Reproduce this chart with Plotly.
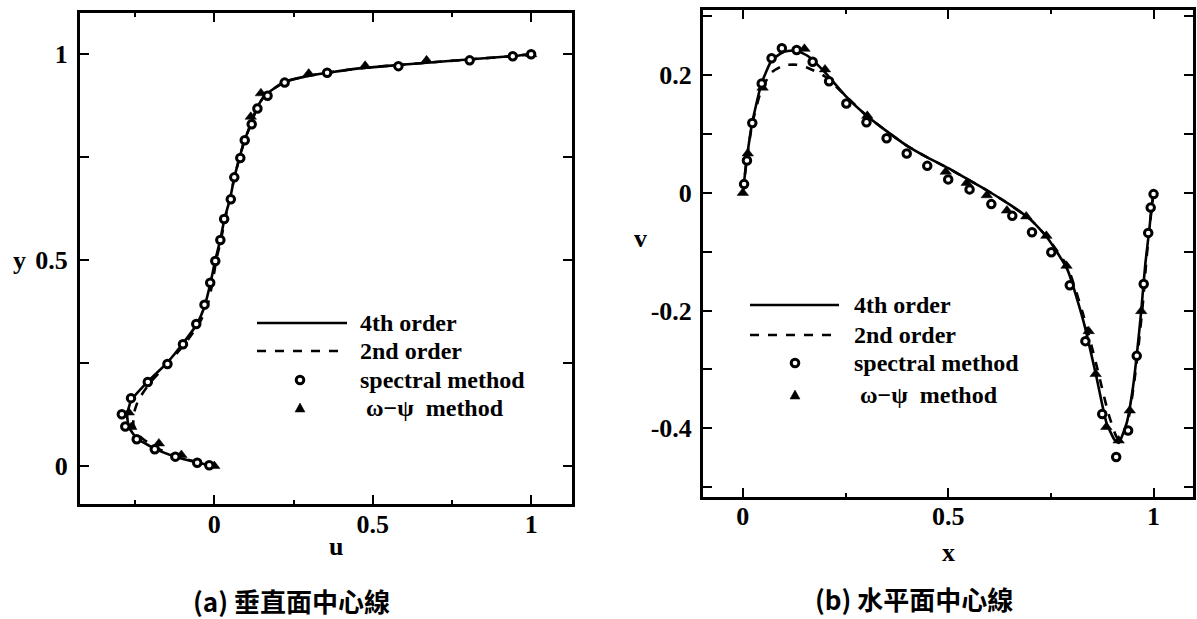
import plotly.graph_objects as go

# ---------------- (a) vertical centerline: u(y) ----------------
spec_u = [1.0, 0.942, 0.806, 0.581, 0.356, 0.222, 0.168, 0.136, 0.118, 0.096, 0.082, 0.063,
          0.052, 0.031, 0.019, 0.003, -0.013, -0.031, -0.057, -0.099, -0.148, -0.210, -0.263,
          -0.292, -0.281, -0.245, -0.188, -0.123, -0.054, -0.016]
spec_y = [1.0, 0.995, 0.985, 0.971, 0.955, 0.931, 0.899, 0.868, 0.830, 0.791, 0.748, 0.701,
          0.648, 0.600, 0.549, 0.498, 0.445, 0.392, 0.345, 0.296, 0.248, 0.204, 0.165,
          0.126, 0.096, 0.065, 0.041, 0.023, 0.008, 0.002]

tri_u = [1.0, 0.670, 0.476, 0.298, 0.147, 0.115, 0.0, -0.104, -0.175, -0.262, -0.270]
tri_y = [1.0, 0.985, 0.972, 0.953, 0.905, 0.848, 0.0, 0.027, 0.055, 0.095, 0.130]

o4_u = [0.0, -0.05, -0.12, -0.19, -0.245, -0.27, -0.275, -0.262, -0.21, -0.15, -0.10, -0.055,
        -0.03, -0.012, 0.003, 0.019, 0.032, 0.05, 0.063, 0.08, 0.095, 0.115, 0.135, 0.16,
        0.22, 0.30, 0.45, 0.60, 0.80, 0.95, 1.0]
o4_y = [0.0, 0.008, 0.022, 0.043, 0.068, 0.095, 0.125, 0.16, 0.205, 0.25, 0.297, 0.345,
        0.39, 0.445, 0.50, 0.55, 0.60, 0.65, 0.70, 0.75, 0.79, 0.83, 0.87, 0.90,
        0.932, 0.948, 0.965, 0.975, 0.987, 0.996, 1.0]

o2_u = [0.0, -0.05, -0.12, -0.185, -0.235, -0.255, -0.255, -0.24, -0.20, -0.14, -0.09, -0.045,
        -0.02, -0.006, 0.006, 0.021, 0.034, 0.05, 0.063, 0.08, 0.095, 0.115, 0.135, 0.16,
        0.22, 0.30, 0.45, 0.60, 0.80, 0.95, 1.0]
o2_y = [0.0, 0.009, 0.024, 0.045, 0.072, 0.10, 0.125, 0.16, 0.205, 0.255, 0.30, 0.35,
        0.395, 0.445, 0.50, 0.55, 0.60, 0.65, 0.70, 0.75, 0.79, 0.83, 0.87, 0.90,
        0.932, 0.948, 0.965, 0.975, 0.987, 0.996, 1.0]

# ---------------- (b) horizontal centerline: v(x) ----------------
spec_x = [0.003, 0.010, 0.023, 0.046, 0.070, 0.095, 0.131, 0.170, 0.210, 0.252, 0.301, 0.350,
          0.399, 0.449, 0.500, 0.552, 0.605, 0.656, 0.704, 0.751, 0.796, 0.834, 0.875, 0.909,
          0.938, 0.959, 0.976, 0.987, 0.993, 1.0]
spec_v = [0.015, 0.055, 0.119, 0.186, 0.229, 0.246, 0.243, 0.223, 0.190, 0.152, 0.120, 0.093,
          0.067, 0.046, 0.023, 0.006, -0.019, -0.039, -0.067, -0.101, -0.157, -0.252, -0.376, -0.449,
          -0.404, -0.277, -0.155, -0.068, -0.025, -0.002]

tri_x = [0.0, 0.012, 0.048, 0.150, 0.200, 0.303, 0.494, 0.545, 0.594, 0.643, 0.690, 0.739,
         0.788, 0.842, 0.859, 0.885, 0.915, 0.942, 0.970]
tri_v = [0.0, 0.067, 0.179, 0.245, 0.210, 0.131, 0.036, 0.017, -0.004, -0.030, -0.040, -0.073,
         -0.124, -0.235, -0.308, -0.398, -0.421, -0.370, -0.201]

o4_x = [0.0, 0.010, 0.023, 0.045, 0.070, 0.100, 0.130, 0.160, 0.200, 0.250, 0.300, 0.350,
        0.400, 0.450, 0.500, 0.550, 0.600, 0.650, 0.700, 0.740, 0.790, 0.830, 0.860, 0.885,
        0.905, 0.915, 0.935, 0.950, 0.960, 0.970, 0.980, 0.990, 0.995, 1.0]
o4_v = [0.0, 0.060, 0.120, 0.185, 0.225, 0.240, 0.242, 0.232, 0.205, 0.165, 0.132, 0.105,
        0.080, 0.060, 0.042, 0.022, 0.002, -0.020, -0.045, -0.075, -0.130, -0.220, -0.310, -0.390,
        -0.420, -0.425, -0.390, -0.330, -0.270, -0.200, -0.120, -0.060, -0.025, 0.0]

o2_x = [0.0, 0.010, 0.023, 0.045, 0.070, 0.100, 0.130, 0.160, 0.200, 0.250, 0.300, 0.350,
        0.400, 0.450, 0.500, 0.550, 0.600, 0.650, 0.700, 0.740, 0.790, 0.830, 0.860, 0.890,
        0.910, 0.920, 0.940, 0.955, 0.965, 0.975, 0.983, 0.991, 0.996, 1.0]
o2_v = [0.0, 0.060, 0.118, 0.175, 0.205, 0.217, 0.218, 0.212, 0.198, 0.165, 0.132, 0.105,
        0.080, 0.060, 0.042, 0.022, 0.002, -0.020, -0.045, -0.075, -0.125, -0.210, -0.290, -0.375,
        -0.415, -0.420, -0.380, -0.310, -0.250, -0.180, -0.110, -0.055, -0.022, 0.0]

legend_labels = ["4th order", "2nd order", "spectral method", "\u00a0ω−ψ\u00a0\u00a0method"]
captions = ["(a) 垂直面中心線", "(b) 水平面中心線"]

W, H = 1197, 619
SERIF = "Liberation Serif"
CJK = "Noto Sans CJK TC"


def px(x):
    return x / W


def py(y):
    return 1 - y / H


fig = go.Figure()

line_w = 2.6
circ = dict(symbol="circle", size=7.5, color="white", line=dict(color="black", width=3))
tri = dict(symbol="triangle-up", size=10, color="black", line=dict(color="black", width=0.5))

for xa, ya, xs4, ys4, xs2, ys2, txs, tys, sxs, sys_ in [
    ("x", "y", o4_u, o4_y, o2_u, o2_y, tri_u, tri_y, spec_u, spec_y),
    ("x2", "y2", o4_x, o4_v, o2_x, o2_v, tri_x, tri_v, spec_x, spec_v),
]:
    fig.add_trace(go.Scatter(x=xs2, y=ys2, mode="lines", xaxis=xa, yaxis=ya,
                             line=dict(color="black", width=line_w, dash="dash", shape="spline", smoothing=0.5),
                             showlegend=False, name="2nd order"))
    fig.add_trace(go.Scatter(x=xs4, y=ys4, mode="lines", xaxis=xa, yaxis=ya,
                             line=dict(color="black", width=line_w, shape="spline", smoothing=0.5),
                             showlegend=False, name="4th order"))
    fig.add_trace(go.Scatter(x=txs, y=tys, mode="markers", xaxis=xa, yaxis=ya, marker=tri,
                             showlegend=False, name="ω−ψ method"))
    fig.add_trace(go.Scatter(x=sxs, y=sys_, mode="markers", xaxis=xa, yaxis=ya, marker=circ,
                             showlegend=False, name="spectral method"))

tickfont = dict(family=SERIF, size=26, color="black", weight="bold")
common = dict(showline=True, linecolor="black", linewidth=3, mirror="ticks",
              ticks="inside", tickcolor="black", tickwidth=2.2, showgrid=False, zeroline=False,
              tickfont=tickfont)
xminor = dict(ticks="inside", ticklen=4, tickcolor="black", tickwidth=2.2)
yminor = dict(ticks="inside", ticklen=9, tickcolor="black", tickwidth=2.2)

fig.update_layout(
    width=W, height=H,
    margin=dict(l=0, r=0, t=0, b=0),
    paper_bgcolor="white", plot_bgcolor="white",
    xaxis=dict(domain=[px(80), px(572)], range=[-0.424, 1.129], anchor="y",
               tickvals=[0, 0.5, 1], ticktext=["0", "0.5", "1"], ticklen=9, ticklabelstandoff=-5,
               minor=dict(tickvals=[-0.25, 0.25, 0.75], **xminor), **common),
    yaxis=dict(domain=[py(504), py(13)], range=[-0.092, 1.1], anchor="x",
               tickvals=[0, 0.5, 1], ticktext=["0", "0.5", "1"], ticklen=9, ticklabelstandoff=4,
               minor=dict(tickvals=[0.25, 0.75], **yminor), **common),
    xaxis2=dict(domain=[px(703), px(1193)], range=[-0.097, 1.096], anchor="y2",
                tickvals=[0, 0.5, 1], ticktext=["0", "0.5", "1"], ticklen=9, ticklabelstandoff=-6,
                minor=dict(tickvals=[0.25, 0.75], **xminor), **common),
    yaxis2=dict(domain=[py(497), py(10)], range=[-0.517, 0.311], anchor="x2",
                tickvals=[-0.4, -0.2, 0, 0.2], ticktext=["-0.4", "-0.2", "0", "0.2"], ticklen=9,
                ticklabelstandoff=3,
                minor=dict(tickvals=[-0.5, -0.3, -0.1, 0.1, 0.3], **yminor), **common),
)

annos = []
shapes = []
lab_font = dict(family=SERIF, size=26, color="black", weight="bold")
annos.append(dict(text="u", x=0.385, y=py(546), xref="x", yref="paper", xanchor="center",
                  yanchor="middle", showarrow=False, font=lab_font))
annos.append(dict(text="x", x=0.5, y=py(552), xref="x2", yref="paper", xanchor="center",
                  yanchor="middle", showarrow=False, font=lab_font))
annos.append(dict(text="y", x=px(19), y=0.5, xref="paper", yref="y", xanchor="center",
                  yanchor="middle", showarrow=False, font=lab_font))
annos.append(dict(text="v", x=px(640), y=py(239), xref="paper", yref="paper", xanchor="center",
                  yanchor="middle", showarrow=False, font=lab_font))

cap_font = dict(family=CJK, size=26, color="black", weight="bold")
annos.append(dict(text=captions[0], x=px(291), y=py(600), xref="paper", yref="paper",
                  xanchor="center", yanchor="middle", showarrow=False, font=cap_font))
annos.append(dict(text=captions[1], x=px(914), y=py(598), xref="paper", yref="paper",
                  xanchor="center", yanchor="middle", showarrow=False, font=cap_font))

# custom legends (line samples, symbols and labels)
leg_font = dict(family=SERIF, size=24, color="black", weight="bold")
for (x0, x1, xm, xt, rows) in [(257, 347, 300, 358, [323, 351, 380, 408]),
                               (750, 839, 795, 852, [305, 335, 363, 395])]:
    shapes.append(dict(type="line", xref="paper", yref="paper", x0=px(x0), x1=px(x1),
                       y0=py(rows[0]), y1=py(rows[0]), line=dict(color="black", width=2.6)))
    shapes.append(dict(type="line", xref="paper", yref="paper", x0=px(x0), x1=px(x1),
                       y0=py(rows[1]), y1=py(rows[1]), line=dict(color="black", width=2.6, dash="dash")))
    shapes.append(dict(type="circle", xref="paper", yref="paper", xsizemode="pixel", ysizemode="pixel",
                       xanchor=px(xm), yanchor=py(rows[2]), x0=-3.8, x1=3.8, y0=-3.8, y1=3.8,
                       line=dict(color="black", width=3), fillcolor="white"))
    shapes.append(dict(type="path", xref="paper", yref="paper", xsizemode="pixel", ysizemode="pixel",
                       xanchor=px(xm), yanchor=py(rows[3]), path="M-5,-4 L5,-4 L0,5 Z",
                       line=dict(color="black", width=0.5), fillcolor="black"))
    for r, t in zip(rows, legend_labels):
        annos.append(dict(text=t, x=px(xt), y=py(r), xref="paper", yref="paper", xanchor="left",
                          yanchor="middle", showarrow=False, font=leg_font))

fig.update_layout(annotations=annos, shapes=shapes)
fig.write_html("out.html", config={"displayModeBar": False},
               post_script="document.body.style.margin='0';document.body.style.overflow='hidden';")
